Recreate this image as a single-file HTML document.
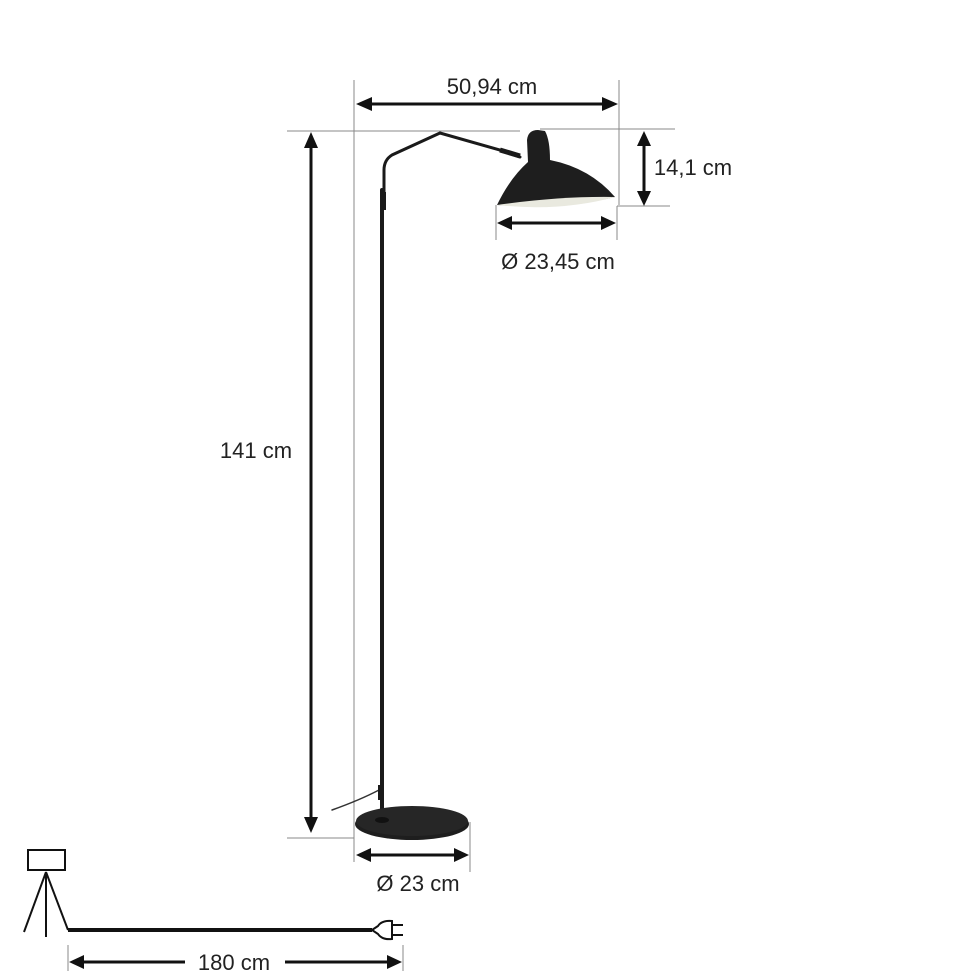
<!DOCTYPE html>
<html><head><meta charset="utf-8"><style>
html,body{margin:0;padding:0;background:#fff;}
svg{display:block;}
text{font-family:"Liberation Sans",sans-serif;font-size:22px;fill:#222;}
</style></head><body>
<svg width="970" height="971" viewBox="0 0 970 971" xmlns="http://www.w3.org/2000/svg">
<g stroke="#888" stroke-width="1" fill="none">
<line x1="354" y1="80" x2="354" y2="862"/>
<line x1="619" y1="80" x2="619" y2="205"/>
<line x1="287" y1="131" x2="520" y2="131"/>
<line x1="540" y1="129" x2="675" y2="129"/>
<line x1="617" y1="206" x2="670" y2="206"/>
<line x1="496" y1="205" x2="496" y2="240"/>
<line x1="617" y1="206" x2="617" y2="240"/>
<line x1="287" y1="838" x2="354" y2="838"/>
<line x1="470" y1="822" x2="470" y2="872"/>
<line x1="68" y1="945" x2="68" y2="971"/>
<line x1="403" y1="945" x2="403" y2="971"/>
</g>
<g stroke="#111" stroke-width="3" fill="#111">
<line x1="370" y1="104" x2="605" y2="104"/>
<polygon points="356,104 372,97 372,111" stroke="none"/>
<polygon points="618,104 602,97 602,111" stroke="none"/>
<line x1="311" y1="145" x2="311" y2="820"/>
<polygon points="311,132 304,148 318,148" stroke="none"/>
<polygon points="311,833 304,817 318,817" stroke="none"/>
<line x1="644" y1="145" x2="644" y2="193"/>
<polygon points="644,131 637,146 651,146" stroke="none"/>
<polygon points="644,206 637,191 651,191" stroke="none"/>
<line x1="510" y1="223" x2="604" y2="223"/>
<polygon points="497,223 512,216 512,230" stroke="none"/>
<polygon points="616,223 601,216 601,230" stroke="none"/>
<line x1="369" y1="855" x2="457" y2="855"/>
<polygon points="356,855 371,848 371,862" stroke="none"/>
<polygon points="469,855 454,848 454,862" stroke="none"/>
<line x1="82" y1="962" x2="185" y2="962"/>
<line x1="285" y1="962" x2="390" y2="962"/>
<polygon points="69,962 84,955 84,969" stroke="none"/>
<polygon points="402,962 387,955 387,969" stroke="none"/>
</g>
<!-- lamp -->
<g fill="none" stroke="#1a1a1a" stroke-linecap="round">
<path d="M382,815 L382,190" stroke-width="4"/>
<path d="M384,195 L384,170 Q384,160 392,155 L440,133 L500,150 L520,157" stroke-width="3"/>
<path d="M379,790 Q360,800 332,810" stroke-width="1.5" stroke="#333"/>
</g>
<line x1="383" y1="192" x2="383" y2="210" stroke="#1a1a1a" stroke-width="6"/>
<line x1="381" y1="785" x2="381" y2="800" stroke="#1a1a1a" stroke-width="6"/>
<line x1="500" y1="150" x2="520" y2="156" stroke="#1a1a1a" stroke-width="5"/>
<path d="M527,140 Q528,130 538,130 L545,131 Q550,140 550,160 Q590,168 615,197 Q560,210 497,205 Q510,178 528,162 Z" fill="#1e1e1e"/>
<path d="M497,205 Q560,196 615,197 Q560,212 497,205 Z" fill="#e9e9df"/>
<ellipse cx="412" cy="824" rx="57" ry="16" fill="#1e1e1e"/>
<ellipse cx="412" cy="821" rx="56" ry="15" fill="#262626"/>
<ellipse cx="382" cy="820" rx="7" ry="3" fill="#111"/>
<!-- tripod -->
<g stroke="#111" stroke-width="2" fill="none">
<rect x="28" y="850" width="37" height="20"/>
<line x1="46" y1="872" x2="24" y2="932"/>
<line x1="46" y1="872" x2="46" y2="937"/>
<line x1="46" y1="872" x2="68" y2="930"/>
</g>
<line x1="68" y1="930" x2="372" y2="930" stroke="#111" stroke-width="4"/>
<path d="M372,930 L378,926 Q382,920 392,921 L392,939 Q382,940 378,934 Z" fill="#fff" stroke="#111" stroke-width="2"/>
<line x1="392" y1="925" x2="403" y2="925" stroke="#111" stroke-width="2"/>
<line x1="392" y1="935" x2="403" y2="935" stroke="#111" stroke-width="2"/>
<text x="492" y="94" text-anchor="middle">50,94 cm</text>
<text x="693" y="175" text-anchor="middle">14,1 cm</text>
<text x="558" y="269" text-anchor="middle">Ø 23,45 cm</text>
<text x="256" y="458" text-anchor="middle">141 cm</text>
<text x="418" y="891" text-anchor="middle">Ø 23 cm</text>
<text x="234" y="970" text-anchor="middle">180 cm</text>
</svg>
</body></html>
